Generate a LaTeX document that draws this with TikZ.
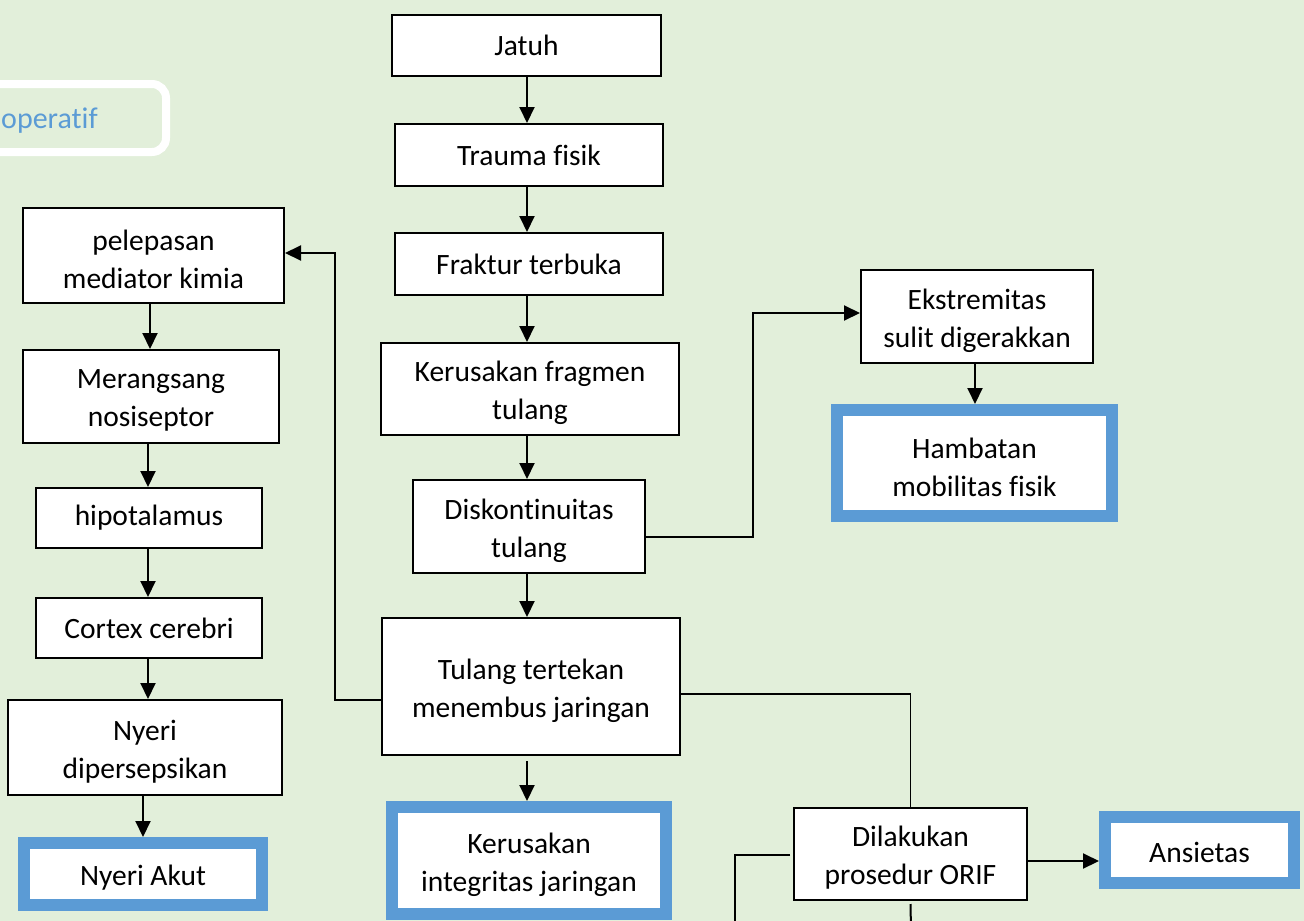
\documentclass[tikz,border=0pt]{standalone}
\usepackage{fontspec}
\setmainfont{Carlito}[Ligatures=NoCommon]
\usetikzlibrary{arrows.meta,calc}
\definecolor{bgc}{HTML}{E2EFDA}
\definecolor{bluec}{HTML}{5B9BD5}
\tikzset{
  lbl/.style={align=center, inner sep=0pt, font=\fontsize{29.5}{38}\selectfont},
  T/.style={label={[lbl, yshift=-4pt]center:{#1}}},
  T1/.style={label={[lbl]center:{#1}}},
  bx/.style={draw=black, line width=2pt, fill=white, inner sep=0pt},
  bbx/.style={draw=bluec, line width=12pt, fill=white, inner sep=0pt},
  arr/.style={line width=2pt, -{Triangle[length=16pt,width=15pt]}},
  thinln/.style={line width=1.2pt},
  midln/.style={line width=2pt}
}
\begin{document}
\begin{tikzpicture}[x=1pt,y=-1pt]
\useasboundingbox (0,0) rectangle (1304,921);
\clip (0,0) rectangle (1304,921);
\fill[bgc] (-5,-5) rectangle (1310,930);
% operatif box
\draw[white, line width=8pt, rounded corners=14pt] (-60,84) rectangle (166,152);
\node[anchor=west, inner sep=0pt, text=bluec, font=\fontsize{30}{36}\selectfont] (opt) at (1,121) {operatif};
% central column
\node[bx, minimum width=269, minimum height=61, T1={Jatuh}] (jatuh) at (526.5,45.5) {};
\node[bx, minimum width=268, minimum height=62, T1={Trauma fisik}] (trauma) at (529,155) {};
\node[bx, minimum width=268, minimum height=62, T1={Fraktur terbuka}] (fraktur) at (529,264) {};
\node[bx, minimum width=298, minimum height=92, T={Kerusakan fragmen\\tulang}] (kerfrag) at (530,389) {};
\node[bx, minimum width=232, minimum height=93, T={Diskontinuitas\\tulang}] (disk) at (529,526.5) {};
\node[bx, minimum width=298, minimum height=137, T={Tulang tertekan\\menembus jaringan}] (tulang) at (531,686.5) {};
\node[bbx, minimum width=274, minimum height=107, T={Kerusakan\\integritas jaringan}] (kerint) at (529,860.5) {};
% right column
\node[bx, minimum width=232, minimum height=93, T={Ekstremitas\\sulit digerakkan}] (ekst) at (977,316.5) {};
\node[bbx, minimum width=275, minimum height=106, T={Hambatan\\mobilitas fisik}] (hamb) at (974.5,463) {};
\node[bx, minimum width=233, minimum height=92, T={Dilakukan\\prosedur ORIF}] (orif) at (910.5,854) {};
\node[bbx, minimum width=189, minimum height=66, label={[lbl, yshift=-2pt]center:Ansietas}] (ansi) at (1199.5,850) {};
% left column
\node[bx, minimum width=261, minimum height=95, T={pelepasan\\mediator kimia}] (pelepasan) at (153.5,255.5) {};
\node[bx, minimum width=256, minimum height=93, T={Merangsang\\nosiseptor}] (merang) at (151,396.5) {};
\node[bx, minimum width=226, minimum height=60, T1={hipotalamus}] (hipo) at (149,518) {};
\node[bx, minimum width=226, minimum height=60, T1={Cortex cerebri}] (cortex) at (149,628) {};
\node[bx, minimum width=274, minimum height=95, T={Nyeri\\dipersepsikan}] (nyeri) at (145,747.5) {};
\node[bbx, minimum width=238, minimum height=62, T={Nyeri Akut}] (nyeriakut) at (143,874) {};
% helper x positions
\coordinate (xc) at (527,0);
\coordinate (xa) at (150,0);
\coordinate (xb) at (148,0);
\coordinate (xd) at (143,0);
\coordinate (xe) at (975,0);
% connectors central
\draw[arr] (xc |- jatuh.south) -- (xc |- trauma.north);
\draw[arr] (xc |- trauma.south) -- (xc |- fraktur.north);
\draw[arr] (xc |- fraktur.south) -- (xc |- kerfrag.north);
\draw[arr] (xc |- kerfrag.south) -- (xc |- disk.north);
\draw[arr] (xc |- disk.south) -- (xc |- tulang.north);
\draw[arr] ([yshift=-5pt]xc |- tulang.south) -- (xc |- kerint.north);
% left chain
\draw[arr] (xa |- pelepasan.south) -- (xa |- merang.north);
\draw[arr] (xb |- merang.south) -- (xb |- hipo.north);
\draw[arr] (xb |- hipo.south) -- (xb |- cortex.north);
\draw[arr] (xb |- cortex.south) -- (xb |- nyeri.north);
\draw[arr] (xd |- nyeri.south) -- (xd |- nyeriakut.north);
% tulang -> pelepasan
\coordinate (c1) at (335,700);
\coordinate (c2) at (335,253);
\draw[arr] ([yshift=-13.5pt]tulang.west) -- (c1) -- (c2) -- (c2 -| pelepasan.east);
% disk -> ekst
\coordinate (c3) at (753,313);
\draw[arr] ([yshift=-10.5pt]disk.east) -| (c3) -- (c3 -| ekst.west);
\draw[arr] (xe |- ekst.south) -- (xe |- hamb.north);
% tulang -> orif
\draw[thinln] ([yshift=-7.5pt]tulang.east) -| (orif.north);
% orif -> ansietas
\draw[arr] ([yshift=-7pt]orif.east) -- ([yshift=-7pt]orif.east -| ansi.west);
% orif left and bottom
\coordinate (c4) at (735,855);
\coordinate (c5) at (735,930);
\draw[thinln] ([xshift=-3pt]orif.west |- c4) -- (c4) -- (c5);
\coordinate (c6) at (911,930);
\draw[midln] ([yshift=-3pt]orif.south) -- (c6);
\end{tikzpicture}
\end{document}
